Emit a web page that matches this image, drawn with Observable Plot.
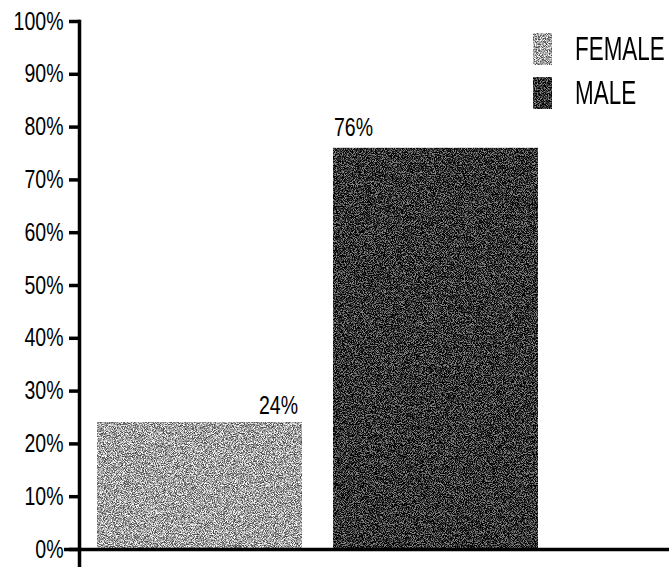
<!DOCTYPE html>
<html>
<head>
<meta charset="utf-8">
<script src="https://cdn.jsdelivr.net/npm/d3@7"></script>
<script src="https://cdn.jsdelivr.net/npm/@observablehq/plot@0.6"></script>
<style>
  body { margin: 0; background: #fff; }
  #chart { position: relative; width: 669px; height: 567px; overflow: hidden; }
  .legend { position: absolute; left: 533px; top: 33px; font-family: "Liberation Sans", Arial, sans-serif; }
  .legend .item { position: relative; height: 44px; }
  .legend .swatch { position: absolute; left: 0; top: 0; width: 19px; height: 32px; filter: url(#grain); }
  .legend .name { position: absolute; left: 42px; top: -2px; font-size: 33px; line-height: 36px; color: #000;
                  transform: scaleX(0.68); transform-origin: 0 0; white-space: nowrap; }
</style>
</head>
<body>
<svg width="0" height="0" style="position:absolute">
  <!-- stippled print texture for the filled areas -->
  <filter id="grain" x="0" y="0" width="100%" height="100%" color-interpolation-filters="sRGB">
    <feTurbulence type="fractalNoise" baseFrequency="1.1" numOctaves="2" seed="7" result="noise"/>
    <feColorMatrix in="noise" type="matrix" result="gray"
      values="3 0 0 0 -1  3 0 0 0 -1  3 0 0 0 -1  0 0 0 0 1"/>
    <feComposite in="SourceGraphic" in2="gray" operator="arithmetic" k1="0" k2="1" k3="0.7" k4="-0.35" result="mixed"/>
    <feComposite in="mixed" in2="SourceAlpha" operator="in"/>
  </filter>
</svg>
<div id="chart"></div>
<script>
// Share of respondents by gender, in percent
const genders = ["FEMALE", "MALE"];
const shares = [24, 76];
const yTicks = [0, 10, 20, 30, 40, 50, 60, 70, 80, 90, 100];

const rows = genders.map((gender, i) => ({gender, share: shares[i]}));
const fills = {FEMALE: "#a2a2a2", MALE: "#303030"};

const plot = Plot.plot({
  width: 669,
  height: 567,
  marginTop: 21,
  marginBottom: 18,
  marginLeft: 80,
  marginRight: 114,
  x: {domain: genders, paddingInner: 0.13, paddingOuter: 0.0713, axis: null},
  y: {domain: [0, 100], label: null},
  color: {domain: genders, range: genders.map(g => fills[g])},
  style: {fontFamily: "'Liberation Sans', Arial, sans-serif", fontSize: "25px", color: "#000", background: "#fff"},
  marks: [
    Plot.barY(rows, {x: "gender", y: "share", fill: "gender", filter: null}),
    // value labels: flush right over the first bar, flush left over the second
    Plot.text(rows.filter(d => d.gender === "FEMALE"), {
      x: "gender", y: "share", text: d => `${d.share}%`,
      textAnchor: "end", lineAnchor: "bottom", dx: 98, dy: -9, fill: "#000"
    }),
    Plot.text(rows.filter(d => d.gender === "MALE"), {
      x: "gender", y: "share", text: d => `${d.share}%`,
      textAnchor: "start", lineAnchor: "bottom", dx: -102, dy: -12, fill: "#000"
    }),
    Plot.axisY({ticks: yTicks, tickFormat: d => `${d}%`, tickSize: 11, tickPadding: 6, strokeWidth: 3.5, label: null}),
    Plot.frame({anchor: "left", strokeWidth: 3.5, insetLeft: -1, insetBottom: -20}),
    Plot.ruleY([0], {strokeWidth: 3.5, insetLeft: -16, insetRight: -120})
  ]
});

const chart = document.getElementById("chart");
chart.appendChild(plot);

// stipple texture on the bars
d3.select(plot).select("g[aria-label='bar']").attr("filter", "url(#grain)");

// condensed lettering for the tick and value labels
d3.select(plot).selectAll("text").each(function () {
  const w = this.getComputedTextLength();
  this.setAttribute("textLength", (w * 0.78).toFixed(1));
  this.setAttribute("lengthAdjust", "spacingAndGlyphs");
});

// legend in the upper right corner
const legend = d3.select(chart).append("div").attr("class", "legend");
const item = legend.selectAll(".item").data(genders).join("div").attr("class", "item");
item.append("div").attr("class", "swatch").style("background", g => fills[g]);
item.append("div").attr("class", "name").text(g => g);
</script>
</body>
</html>
